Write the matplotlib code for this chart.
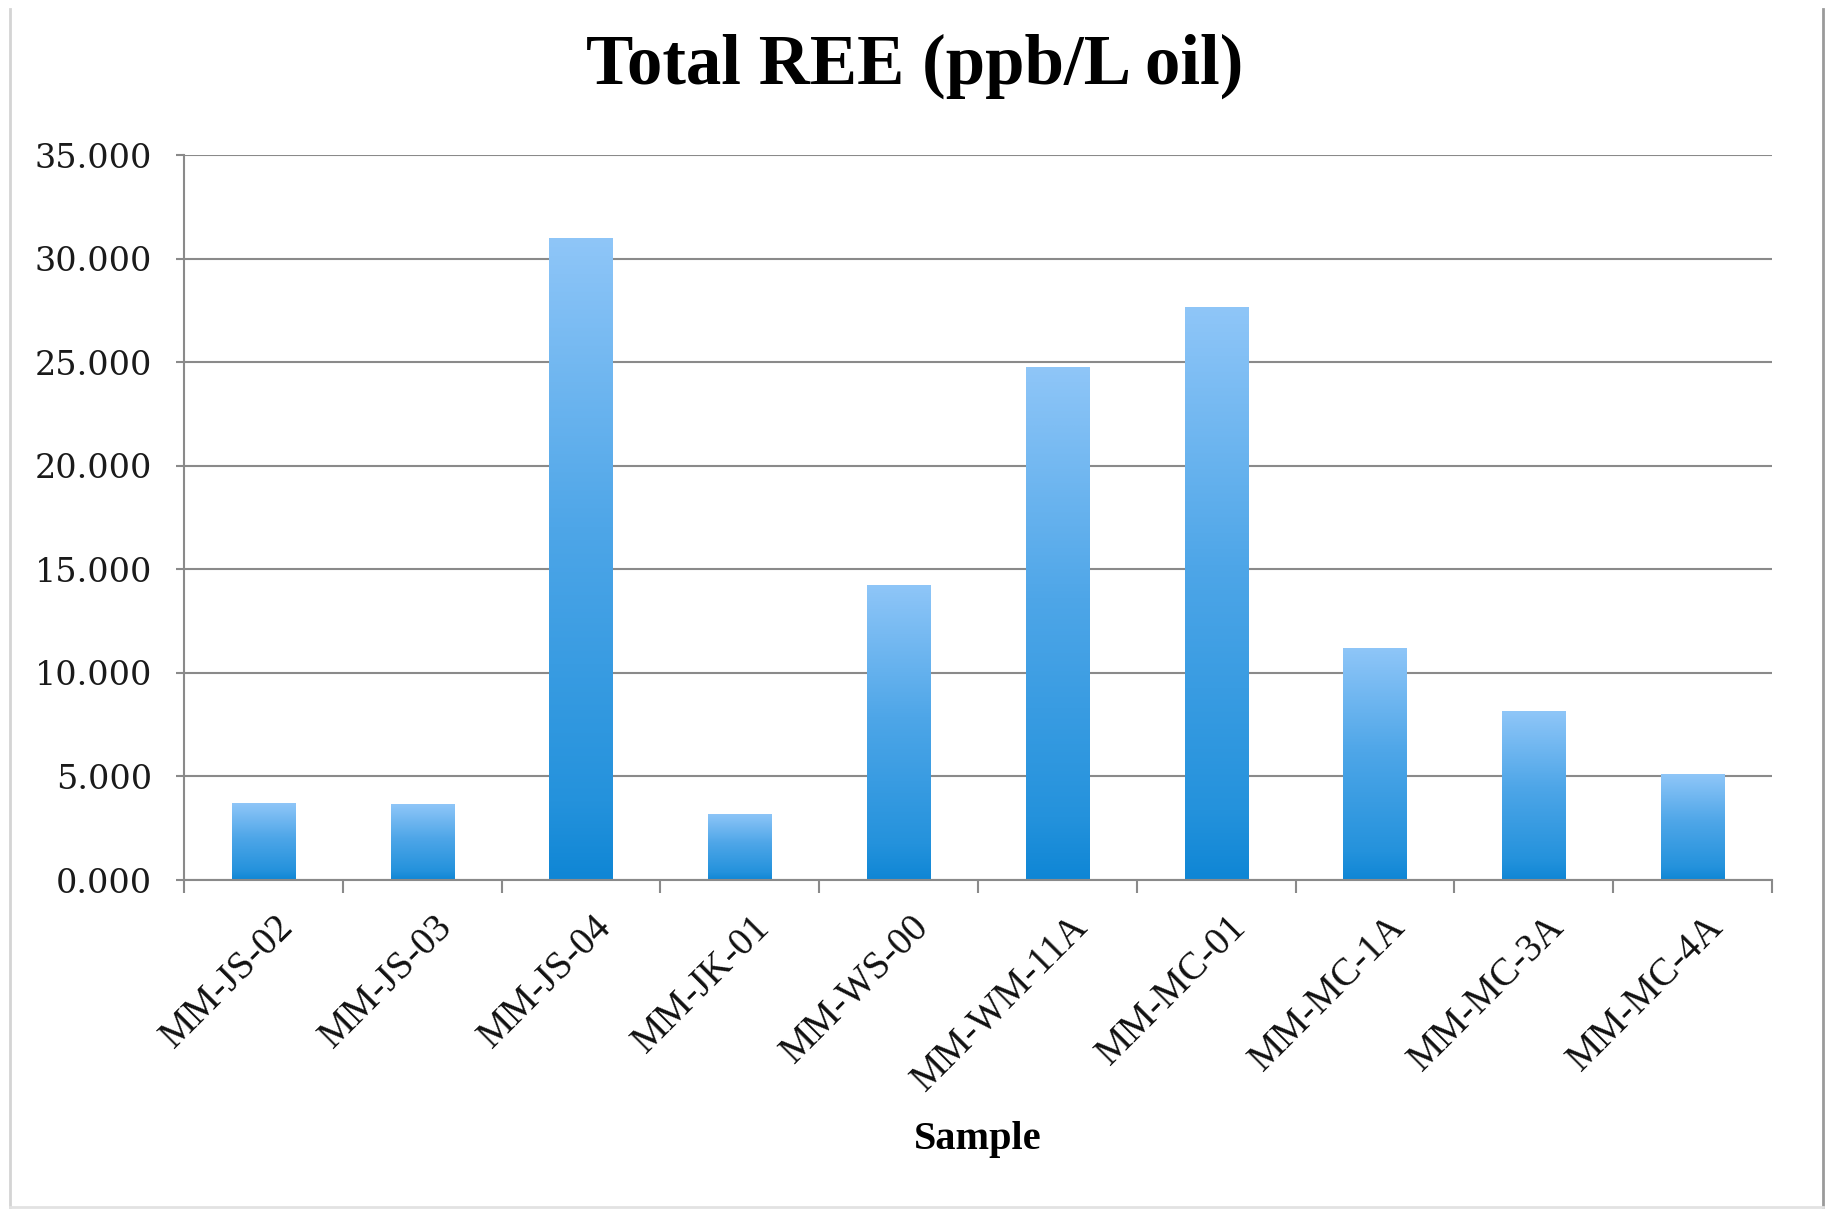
import numpy as np
import matplotlib
matplotlib.use("Agg")
import matplotlib.pyplot as plt
from matplotlib.colors import LinearSegmentedColormap
from matplotlib.transforms import ScaledTranslation
from matplotlib.lines import Line2D

# Total rare-earth element content per sample
samples = ["MM-JS-02", "MM-JS-03", "MM-JS-04", "MM-JK-01", "MM-WS-00",
           "MM-WM-11A", "MM-MC-01", "MM-MC-1A", "MM-MC-3A", "MM-MC-4A"]
total_ree = [3.70, 3.65, 31.00, 3.20, 14.25, 24.75, 27.65, 11.20, 8.15, 5.10]
y_ticks = [0, 5, 10, 15, 20, 25, 30, 35]
y_tick_labels = ["0.000", "5.000", "10.000", "15.000", "20.000",
                 "25.000", "30.000", "35.000"]

fig = plt.figure(figsize=(18.28, 12.12), dpi=100)
ax = fig.add_axes([0.1007, 0.2739, 0.8687, 0.5982])

grid_color = "#8a8a8a"
bar_cmap = LinearSegmentedColormap.from_list(
    "bar_grad", [(0.0, "#0f86d5"), (0.12, "#2492dc"), (0.55, "#4ea6e8"), (1.0, "#8fc6f8")])
grad = np.linspace(0, 1, 256).reshape(-1, 1)

x = np.arange(len(samples))
bars = ax.bar(x, total_ree, width=0.4, color="none", edgecolor="none", zorder=2)
for b in bars:
    x0, y0, w, h = b.get_x(), b.get_y(), b.get_width(), b.get_height()
    im = ax.imshow(grad, extent=(x0, x0 + w, y0, y0 + h), origin="lower",
                   aspect="auto", cmap=bar_cmap, zorder=2, interpolation="bicubic")
    im.set_clip_path(b)

ax.set_xlim(-0.5, len(samples) - 0.5)
ax.set_ylim(0, 35)
ax.set_axisbelow(True)

# y axis
ax.set_yticks(y_ticks, y_tick_labels)
ax.yaxis.grid(True, color=grid_color, linewidth=1.5)
ax.tick_params(axis="y", direction="out", length=6, width=1.5, color=grid_color,
               pad=17, labelsize=24, labelcolor="#1a1a1a")
for lbl in ax.get_yticklabels():
    lbl.set_fontfamily("DejaVu Serif")

# x axis: ticks at category boundaries, labels at bar centres
ax.set_xticks(x, samples)
ax.set_xticks(np.arange(-0.5, len(samples), 1.0), minor=True)
ax.tick_params(axis="x", which="major", length=0, pad=30, labelsize=28,
               labelcolor="#111111")
ax.tick_params(axis="x", which="minor", direction="out", length=9, width=1.5,
               color=grid_color)
offset = ScaledTranslation(0.25, 0, fig.dpi_scale_trans)
for lbl in ax.get_xticklabels():
    lbl.set_rotation(45)
    lbl.set_ha("right")
    lbl.set_va("center")
    lbl.set_rotation_mode("anchor")
    lbl.set_fontfamily("Liberation Serif")
    lbl.set_transform(lbl.get_transform() + offset)

for side in ("top", "right"):
    ax.spines[side].set_visible(False)
for side in ("left", "bottom"):
    ax.spines[side].set_color(grid_color)
    ax.spines[side].set_linewidth(1.5)

ax.set_xlabel("Sample", fontfamily="Liberation Serif", fontweight="bold",
              fontsize=29)
ax.xaxis.set_label_coords(0.5, -0.333)

fig.text(0.5006, 0.945, "Total REE (ppb/L oil)", ha="center", va="center",
         fontfamily="Liberation Serif", fontweight="bold", fontsize=51)

# thin frame lines around the chart
W, H = 1828.0, 1212.0
frame = [
    ((10 / W, 10 / W), (1 - 9 / H, 1 - 1207 / H), "#d4d4d4"),
    ((1823 / W, 1823 / W), (1 - 9 / H, 1 - 1207 / H), "#9a9a9a"),
    ((10 / W, 1823 / W), (1 - 1207 / H, 1 - 1207 / H), "#e2e2e2"),
]
for xs, ys, col in frame:
    fig.lines.append(Line2D(xs, ys, transform=fig.transFigure, color=col,
                            linewidth=2))

fig.savefig("out.png", dpi=100, facecolor="white")
